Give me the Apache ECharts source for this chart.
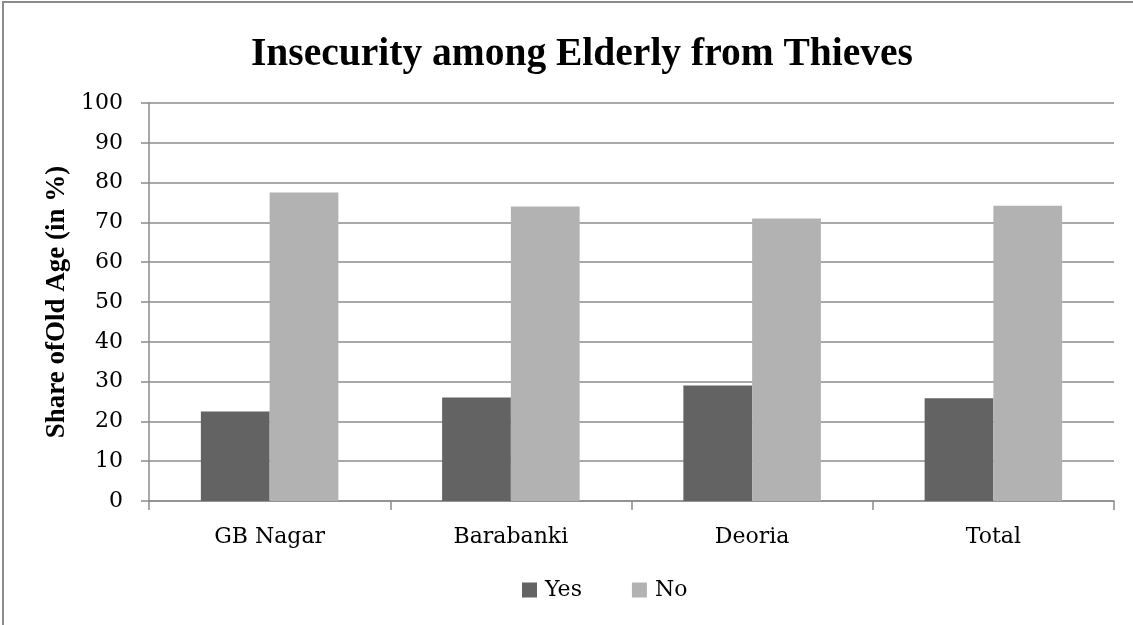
<!DOCTYPE html>
<html>
<head>
<meta charset="utf-8">
<script src="https://cdn.jsdelivr.net/npm/echarts@6/dist/echarts.min.js"></script>
<style>
  html, body { margin: 0; padding: 0; background: #fff; }
  #chart { width: 1133px; height: 625px; }
</style>
</head>
<body>
<div id="chart"></div>
<script>
// Insecurity among Elderly from Thieves
const categories = ['GB Nagar', 'Barabanki', 'Deoria', 'Total'];
const yesValues = [22.5, 26.0, 29.0, 25.8];
const noValues = [77.5, 74.0, 71.0, 74.2];
const seriesNames = ['Yes', 'No'];

const serif = '"DejaVu Serif", "Liberation Serif", serif';
const boldSerif = '"Liberation Serif", "DejaVu Serif", serif';
const gridColor = '#8c8c8c';

const chart = echarts.init(document.getElementById('chart'));
chart.setOption({
    animation: false,
    backgroundColor: '#fff',
    title: {
        text: 'Insecurity among Elderly from Thieves',
        left: 246,
        top: 30,
        textStyle: { fontFamily: boldSerif, fontWeight: 'bold', fontSize: 39.5, color: '#000' }
    },
    legend: {
        data: seriesNames,
        left: 517,
        top: 574,
        itemWidth: 15,
        itemHeight: 15,
        itemGap: 50,
        icon: 'rect',
        textStyle: { fontFamily: serif, fontSize: 22, color: '#000', padding: [0, 0, 0, 3] }
    },
    grid: { left: 149, right: 19, top: 103, bottom: 124 },
    xAxis: {
        type: 'category',
        data: categories,
        axisLine: { lineStyle: { color: gridColor, width: 1.5 } },
        axisTick: { show: true, length: 9, lineStyle: { color: gridColor, width: 1.5 } },
        axisLabel: { fontFamily: serif, fontSize: 22, color: '#000', margin: 25 }
    },
    yAxis: {
        type: 'value',
        min: 0,
        max: 100,
        interval: 10,
        name: 'Share ofOld Age (in %)',
        nameLocation: 'middle',
        nameGap: 72,
        nameTextStyle: { fontFamily: boldSerif, fontWeight: 'bold', fontSize: 27, color: '#000' },
        axisLine: { show: true, lineStyle: { color: gridColor, width: 1.5 } },
        axisTick: { show: true, length: 8, lineStyle: { color: gridColor, width: 1.5 } },
        axisLabel: { fontFamily: serif, fontSize: 22, color: '#000', margin: 26 },
        splitLine: { lineStyle: { color: gridColor, width: 1.5 } }
    },
    series: [
        {
            name: seriesNames[0],
            type: 'bar',
            data: yesValues,
            barGap: '0%',
            barCategoryGap: '43%',
            itemStyle: { color: '#636363' }
        },
        {
            name: seriesNames[1],
            type: 'bar',
            data: noValues,
            barGap: '0%',
            barCategoryGap: '43%',
            itemStyle: { color: '#b2b2b2' }
        }
    ],
    graphic: [{
        type: 'rect',
        shape: { x: 3, y: 2, width: 1140, height: 640 },
        style: { fill: null, stroke: '#8c8c8c', lineWidth: 2 },
        silent: true
    }]
});
</script>
</body>
</html>
